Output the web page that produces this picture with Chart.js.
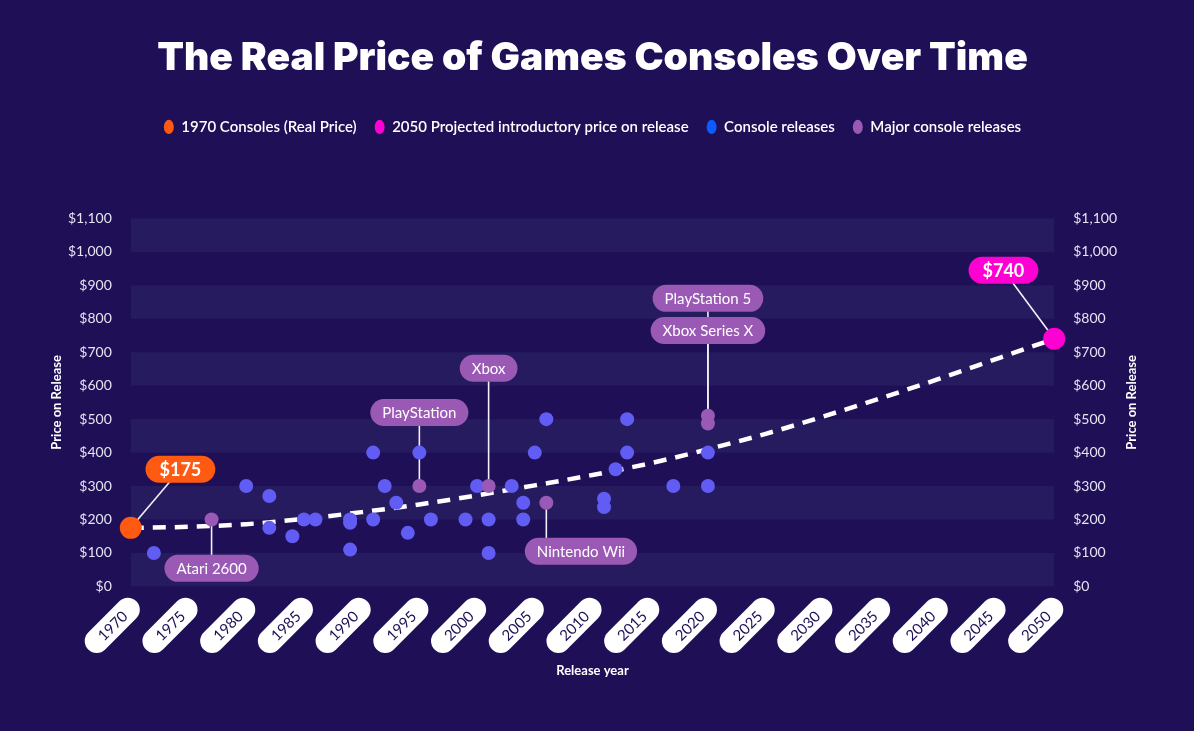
<!DOCTYPE html>
<html>
<head>
<meta charset="utf-8">
<title>The Real Price of Games Consoles Over Time</title>
<script src="https://cdn.jsdelivr.net/npm/chart.js@4.4.1/dist/chart.umd.min.js"></script>
<style>
  html, body { margin: 0; padding: 0; background: #1e0f56; }
  #wrap { width: 1194px; height: 731px; }
</style>
</head>
<body>
<div id="wrap"><canvas id="chart" width="1194" height="731"></canvas></div>
<script>
// --- data ---
const trendYears  = [1970, 1975, 1980, 1985, 1990, 1995, 2000, 2005, 2010, 2015, 2020, 2025, 2030, 2035, 2040, 2045, 2050];
const trendPrices = [175, 178, 186, 202, 222, 245, 272, 302, 333, 368, 410, 456, 508, 563, 620, 680, 740];

const startYears = [1970];
const startPrices = [175];
const projYears = [2050];
const projPrices = [740];

const releaseYears  = [1972, 1980, 1982, 1982, 1984, 1985, 1986, 1989, 1989, 1989, 1991, 1991, 1992, 1993, 1994, 1995, 1996, 1999,
                       2000, 2001, 2001, 2003, 2004, 2004, 2005, 2006, 2011, 2011, 2012, 2013, 2013, 2017, 2020, 2020];
const releasePrices = [100, 300, 270, 175, 150, 200, 200, 200, 190, 110, 400, 200, 300, 250, 160, 400, 200, 200,
                       300, 200, 100, 300, 250, 200, 400, 500, 262, 237, 350, 500, 400, 300, 400, 300];

const majorNames  = ["Atari 2600", "PlayStation", "Xbox", "Nintendo Wii", "Xbox Series X", "PlayStation 5"];
const majorYears  = [1977, 1995, 2001, 2006, 2020, 2020];
const majorPrices = [200, 300, 300, 250, 487, 510];

const legendNames = ["1970 Consoles (Real Price)", "2050 Projected introductory price on release", "Console releases", "Major console releases"];

// --- styling ---
const FONT = "Lato, 'Open Sans', sans-serif";
const TITLE_FONT = "Inter, Lato, sans-serif";
const BG = "#1e0f56";
const BAND = "#271b60";
const ORANGE = "#ff5a12";
const MAGENTA = "#ff00d2";
const BLUE_PT = "#615cf4";
const BLUE_LEGEND = "#0a5cff";
const PURPLE = "#9b59b6";
const legendColors = [ORANGE, MAGENTA, BLUE_LEGEND, PURPLE];

// label pill placement (year / price the pill centre sits at)
const majorLabelAt = [[1977, 54], [1995, 520], [2001, 652], [2009, 105], [2020, 765], [2020, 861]];

const callouts = [
  { text: "$" + startPrices[0], px: startYears[0], py: startPrices[0], lx: 1974.3, ly: 350, fill: ORANGE, font: "bold 18px " + FONT, pad: 14, diag: true },
  { text: "$" + projPrices[0], px: projYears[0], py: projPrices[0], lx: 2045.6, ly: 945, fill: MAGENTA, font: "bold 18px " + FONT, pad: 14, diag: true }
];
majorNames.forEach((n, i) => {
  callouts.push({ text: n, px: majorYears[i], py: majorPrices[i], lx: majorLabelAt[i][0], ly: majorLabelAt[i][1],
                  fill: PURPLE, font: "15px " + FONT, pad: 12, diag: false });
});

const pts = (xs, ys) => xs.map((x, i) => ({ x: x, y: ys[i] }));

function pill(ctx, cx, cy, w, h) {
  const r = h / 2;
  ctx.beginPath();
  ctx.moveTo(cx - w / 2 + r, cy - r);
  ctx.lineTo(cx + w / 2 - r, cy - r);
  ctx.arc(cx + w / 2 - r, cy, r, -Math.PI / 2, Math.PI / 2);
  ctx.lineTo(cx - w / 2 + r, cy + r);
  ctx.arc(cx - w / 2 + r, cy, r, Math.PI / 2, Math.PI * 1.5);
  ctx.closePath();
}

// page background
const bgPlugin = {
  id: "bg",
  beforeDraw(chart) {
    const ctx = chart.ctx;
    ctx.save();
    ctx.fillStyle = BG;
    ctx.fillRect(0, 0, chart.width, chart.height);
    ctx.restore();
  }
};

// alternating horizontal bands
const bandPlugin = {
  id: "bands",
  beforeDatasetsDraw(chart) {
    const { ctx, chartArea, scales: { y } } = chart;
    ctx.save();
    ctx.fillStyle = BAND;
    for (let v = 0; v < 1100; v += 200) {
      const top = y.getPixelForValue(v + 100);
      const bot = y.getPixelForValue(v);
      ctx.fillRect(chartArea.left, top, chartArea.right - chartArea.left, bot - top);
    }
    ctx.restore();
  }
};

// leader lines + label pills
const calloutPlugin = {
  id: "callouts",
  beforeDatasetsDraw(chart) {
    const { ctx, scales: { x, y } } = chart;
    ctx.save();
    ctx.strokeStyle = "#f2f0f8";
    ctx.lineWidth = 1.6;
    callouts.forEach(c => {
      const endX = c.diag ? c.lx : c.px;
      ctx.beginPath();
      ctx.moveTo(x.getPixelForValue(c.px), y.getPixelForValue(c.py));
      ctx.lineTo(x.getPixelForValue(endX), y.getPixelForValue(c.ly));
      ctx.stroke();
    });
    ctx.restore();
  },
  afterDatasetsDraw(chart) {
    const { ctx, scales: { x, y } } = chart;
    ctx.save();
    ctx.textAlign = "center";
    ctx.textBaseline = "middle";
    callouts.forEach(c => {
      ctx.font = c.font;
      const w = ctx.measureText(c.text).width + c.pad * 2;
      const cx = x.getPixelForValue(c.lx);
      const cy = y.getPixelForValue(c.ly);
      pill(ctx, cx, cy, w, 27);
      ctx.fillStyle = c.fill;
      ctx.fill();
      ctx.fillStyle = "#ffffff";
      ctx.fillText(c.text, cx, cy + 1);
    });
    ctx.restore();
  }
};

// rotated white pills for the year ticks + both vertical axis titles
const axisDecorPlugin = {
  id: "axisDecor",
  afterDraw(chart) {
    const { ctx, chartArea, scales: { x } } = chart;
    ctx.save();
    ctx.font = "15px " + FONT;
    ctx.textAlign = "center";
    ctx.textBaseline = "middle";
    x.ticks.forEach(t => {
      const px = x.getPixelForValue(t.value);
      ctx.save();
      ctx.translate(px - 18.5, chartArea.bottom + 39);
      ctx.rotate(-Math.PI / 4);
      pill(ctx, 0, 0, 68, 24);
      ctx.fillStyle = "#ffffff";
      ctx.fill();
      ctx.fillStyle = "#1e0f56";
      ctx.fillText(String(t.value), 0, 1);
      ctx.restore();
    });

    const midY = (chartArea.top + chartArea.bottom) / 2;
    ctx.font = "bold 13px " + FONT;
    ctx.fillStyle = "#ffffff";
    [chartArea.left - 74, chartArea.right + 78].forEach(tx => {
      ctx.save();
      ctx.translate(tx, midY);
      ctx.rotate(-Math.PI / 2);
      ctx.fillText("Price on Release", 0, 0);
      ctx.restore();
    });
    ctx.restore();
  }
};

// extra space below the legend
const legendGap = {
  id: "legendGap",
  beforeInit(chart) {
    const fit = chart.legend.fit;
    chart.legend.fit = function () {
      fit.call(this);
      this.height += 74;
    };
  }
};

const priceAxis = (pos) => ({
  type: "linear",
  position: pos,
  min: 0,
  max: 1100,
  ticks: {
    stepSize: 100,
    padding: 19,
    color: "#e6e3f2",
    font: { family: FONT, size: 14 },
    callback: v => "$" + v.toLocaleString("en-US")
  },
  grid: { display: false, drawTicks: false },
  border: { display: false }
});

new Chart(document.getElementById("chart"), {
  type: "scatter",
  data: {
    datasets: [
      { label: legendNames[0], data: pts(startYears, startPrices), backgroundColor: ORANGE, borderWidth: 0,
        pointRadius: 11, pointHoverRadius: 11, order: 0, clip: false },
      { label: legendNames[1], data: pts(projYears, projPrices), backgroundColor: MAGENTA, borderWidth: 0,
        pointRadius: 11, pointHoverRadius: 11, order: 0, clip: false },
      { label: legendNames[2], data: pts(releaseYears, releasePrices), backgroundColor: BLUE_PT, borderWidth: 0,
        pointRadius: 7, pointHoverRadius: 7, order: 2, clip: false },
      { label: legendNames[3], data: pts(majorYears, majorPrices), backgroundColor: PURPLE, borderWidth: 0,
        pointRadius: 7, pointHoverRadius: 7, order: 1, clip: false },
      { label: "Trend", data: pts(trendYears, trendPrices), showLine: true, borderColor: "#ffffff",
        borderWidth: 4.5, borderDash: [13, 9], pointRadius: 0, pointHoverRadius: 0,
        cubicInterpolationMode: "monotone", order: 3, clip: false }
    ]
  },
  options: {
    responsive: false,
    animation: false,
    layout: { padding: { left: 49, right: 58, top: 0, bottom: 52 } },
    scales: {
      x: {
        type: "linear",
        min: 1970,
        max: 2050,
        ticks: { display: false, stepSize: 5 },
        grid: { display: false, drawTicks: false },
        border: { display: false },
        title: {
          display: true,
          text: "Release year",
          color: "#ffffff",
          font: { family: FONT, size: 13, weight: "bold" },
          padding: { top: 77, bottom: 0 }
        }
      },
      y: priceAxis("left"),
      y2: priceAxis("right")
    },
    plugins: {
      title: {
        display: true,
        text: "The Real Price of Games Consoles Over Time",
        color: "#ffffff",
        font: { family: TITLE_FONT, size: 39, weight: 900 },
        padding: { top: 35, bottom: 19.6 }
      },
      legend: {
        position: "top",
        onClick: null,
        labels: {
          usePointStyle: true,
          boxWidth: 10,
          boxHeight: 10,
          pointStyleWidth: 10,
          padding: 18,
          color: "#ffffff",
          font: { family: FONT, size: 15, weight: 600 },
          generateLabels: () => legendNames.map((t, i) => ({
            text: t, fillStyle: legendColors[i], strokeStyle: legendColors[i], lineWidth: 0,
            pointStyle: "circle", fontColor: "#ffffff", hidden: false, datasetIndex: i
          }))
        }
      },
      tooltip: { enabled: false }
    }
  },
  plugins: [bgPlugin, bandPlugin, calloutPlugin, axisDecorPlugin, legendGap]
});
</script>
</body>
</html>
